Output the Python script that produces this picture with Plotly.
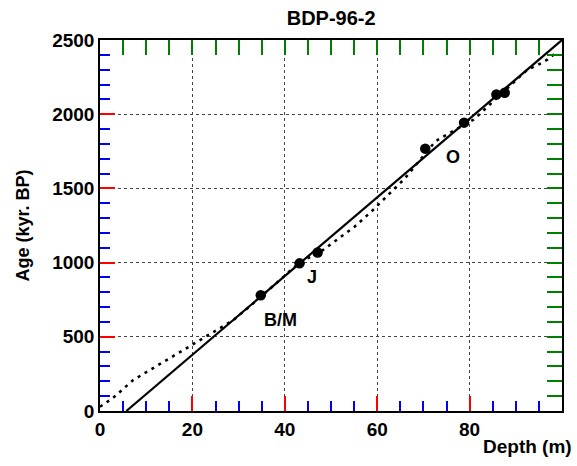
import plotly.graph_objects as go

# Age-control points (geomagnetic reversals)
point_depth = [34.8, 43.2, 47.1, 70.4, 78.8, 85.8, 87.6]
point_age = [780, 995, 1068, 1768, 1943, 2133, 2145]

# Solid linear age model
fit_depth = [5.7, 100]
fit_age = [0, 2500]

# Dotted age model
dot_depth = [0, 2.7, 7.2, 14.4, 21.7, 28.9, 34.0, 38.5, 43.2, 48.3, 51.2, 55.1, 58.7,
             62.3, 66.0, 72.6, 74.0, 80.9, 86.0, 92.5, 94.6, 96.8, 98.6]
dot_age = [29, 85, 209, 344, 478, 613, 748, 870, 1000, 1085, 1150, 1242, 1343,
           1455, 1568, 1817, 1844, 1964, 2110, 2300, 2329, 2367, 2412]

labels = ["B/M", "J", "O"]
label_depth = [39.0, 45.8, 76.5]
label_age = [613, 905, 1713]

x_range = [0, 100]
y_range = [0, 2500]
x_major, x_minor = 20, 5
y_major, y_minor = 500, 100

FONT = "Liberation Sans, Arial, sans-serif"

fig = go.Figure()
fig.add_trace(go.Scatter(x=dot_depth, y=dot_age, mode="lines",
                         line=dict(color="black", width=2.6, dash="3px,5px"),
                         showlegend=False, hoverinfo="skip"))
fig.add_trace(go.Scatter(x=fit_depth, y=fit_age, mode="lines",
                         line=dict(color="black", width=2.2),
                         showlegend=False, hoverinfo="skip"))
fig.add_trace(go.Scatter(x=point_depth, y=point_age, mode="markers",
                         marker=dict(color="black", size=10.5),
                         showlegend=False, hoverinfo="skip"))
fig.add_trace(go.Scatter(x=fit_depth, y=fit_age, xaxis="x2", yaxis="y2",
                         mode="markers", marker=dict(opacity=0), showlegend=False,
                         hoverinfo="skip"))

for t, xd, yd in zip(labels, label_depth, label_age):
    fig.add_annotation(x=xd, y=yd, text="<b>%s</b>" % t, showarrow=False,
                       font=dict(family=FONT, size=18, color="black"))

fig.add_annotation(xref="paper", yref="paper", x=1.027, y=-0.095, xanchor="right",
                   yanchor="middle", text="<b>Depth (m)</b>", showarrow=False,
                   font=dict(family=FONT, size=19, color="black"))

axis_common = dict(
    showline=True, linecolor="black", linewidth=1.5, mirror=True,
    ticks="inside", ticklen=15, tickwidth=2, tickcolor="red",
    showgrid=True, gridcolor="#444", gridwidth=1, griddash="dot",
    zeroline=False, tickmode="linear", tick0=0,
    tickfont=dict(family=FONT, size=19, color="black", weight="bold"),
)

fig.update_layout(
    template="none",
    xaxis=dict(range=x_range, dtick=x_major,
               minor=dict(dtick=x_minor, ticks="inside", ticklen=10, tickcolor="blue",
                          tickwidth=2, showgrid=False),
               **axis_common),
    yaxis=dict(range=y_range, dtick=y_major,
               minor=dict(dtick=y_minor, ticks="inside", ticklen=10, tickcolor="blue",
                          tickwidth=2, showgrid=False),
               title=dict(text="<b>Age (kyr. BP)</b>", standoff=18,
                          font=dict(family=FONT, size=18, color="black")),
               **axis_common),
    xaxis2=dict(range=x_range, overlaying="x", side="top", anchor="y2",
                tickmode="linear", tick0=0, dtick=x_minor,
                showticklabels=False, ticks="inside", ticklen=15, tickwidth=2,
                tickcolor="green", showgrid=False, zeroline=False, showline=False),
    yaxis2=dict(range=y_range, overlaying="y", side="right", anchor="x2",
                tickmode="linear", tick0=0, dtick=y_minor,
                showticklabels=False, ticks="inside", ticklen=15, tickwidth=2,
                tickcolor="green", showgrid=False, zeroline=False, showline=False),
    width=577, height=466,
    margin=dict(l=100, r=15, t=40, b=55),
    paper_bgcolor="white", plot_bgcolor="white",
    title=dict(text="<b>BDP-96-2</b>", x=0.574, xanchor="center", y=0.962, yanchor="middle",
               font=dict(family=FONT, size=20, color="black")),
)

fig.write_html("out.html")
